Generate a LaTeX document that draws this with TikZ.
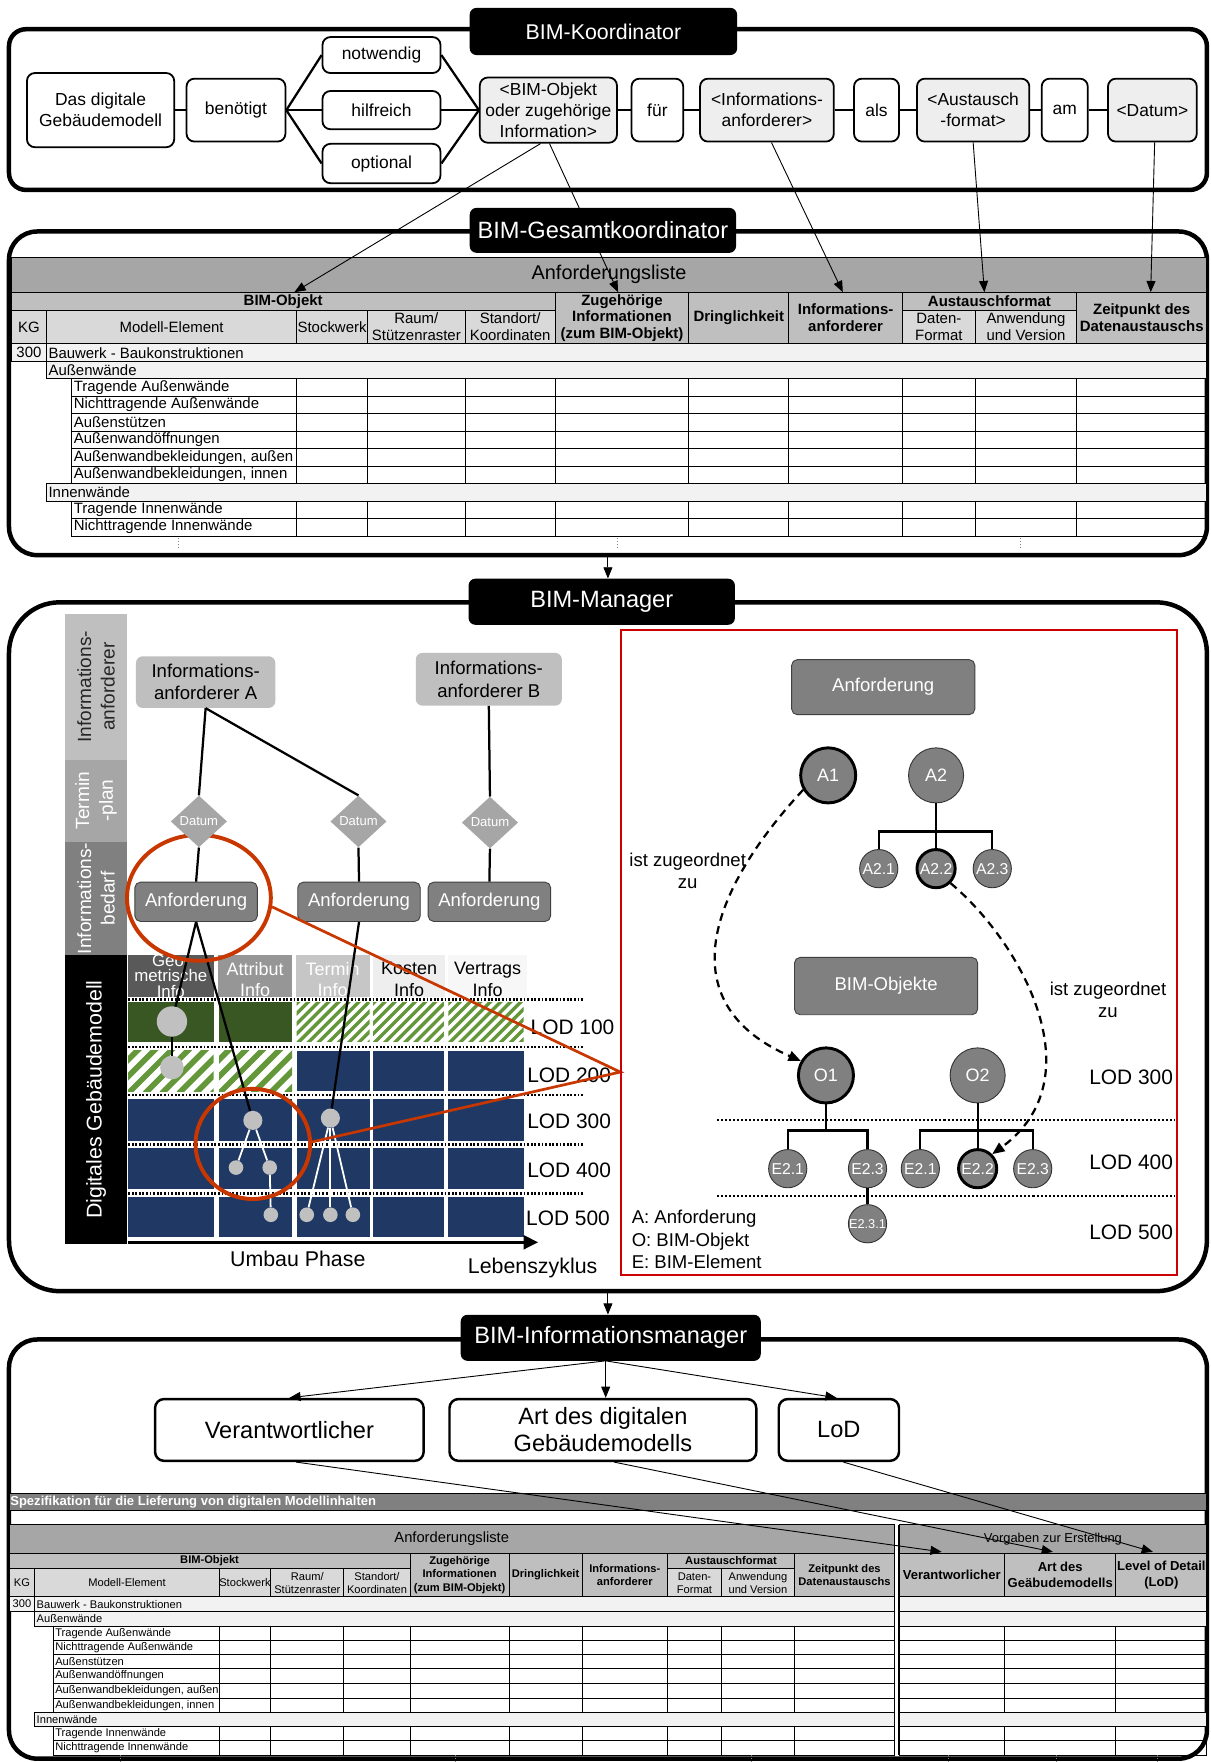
\documentclass[tikz,border=0pt]{standalone}
\usepackage{fontspec}
\setmainfont{Liberation Sans}
\usetikzlibrary{arrows.meta,shapes.geometric,calc}

\definecolor{lbox}{RGB}{238,238,238}
\definecolor{ga}{RGB}{166,166,166}
\definecolor{gb}{RGB}{191,191,191}
\definecolor{gd}{RGB}{217,217,217}
\definecolor{gf}{RGB}{242,242,242}
\definecolor{gm}{RGB}{128,128,128}
\definecolor{gdk}{RGB}{89,89,89}
\definecolor{gat}{RGB}{150,150,150}
\definecolor{gte}{RGB}{198,198,198}
\definecolor{gko}{RGB}{238,238,238}
\definecolor{gve}{RGB}{247,247,247}
\definecolor{navy}{RGB}{31,56,100}
\definecolor{dgreen}{RGB}{56,87,35}
\definecolor{hgreen}{RGB}{100,150,58}
\definecolor{zred}{RGB}{200,55,0}
\definecolor{bred}{RGB}{204,0,0}
\definecolor{ggray}{RGB}{192,192,192}

\newcommand\myfs[2]{\fontsize{#1}{#2}\selectfont}
% table cell: name, x1, y1, x2, y2, fill, node options, text
\newcommand\hc[8]{%
  \draw[tline,fill=#6] (#2,#3) rectangle (#4,#5);
  \node[#7] (#1) at ({(#2+#4)/2},{(#3+#5)/2}) {#8};}
% green hatched cell: x1, y1, x2, y2, stripe period, stripe width
\newcommand\hatchcell[6]{%
  \begin{scope}
    \clip (#1,#2) rectangle (#3,#4);
    \fill[white] (#1,#2) rectangle (#3,#4);
    \foreach \hk in {0,#5,...,130}
      \draw[hgreen,line width=#6pt] ({#1-45+\hk},{#4+2}) -- ++(60,-60);
  \end{scope}}

\begin{document}
\begin{tikzpicture}[x=1pt,y=-1pt,
  secframe/.style={draw=black,line width=4pt},
  lbl/.style={fill=black,text=white,rounded corners=6pt,inner sep=0pt},
  sbox/.style={draw=black,line width=1.6pt,rounded corners=7pt,fill=white,align=center,inner sep=1pt,font=\myfs{15.5}{18.5}},
  gbox/.style={sbox,fill=lbox},
  joinline/.style={line width=2pt},
  conn/.style={line width=0.8pt,-{Triangle[length=10pt,width=8pt]}},
  tline/.style={draw=black,line width=0.8pt},
  ttx/.style={font=\myfs{13.3}{15},inner sep=0pt},
  tsx/.style={font=\myfs{13.3}{15},inner sep=0pt,align=center},
  tbx/.style={font=\bfseries\myfs{13.3}{15},inner sep=0pt,align=center},
  btx/.style={font=\myfs{9.9}{11.5},inner sep=0pt},
  bsx/.style={font=\myfs{9.9}{11.5},inner sep=0pt,align=center},
  bbx/.style={font=\bfseries\myfs{9.9}{12},inner sep=0pt,align=center},
  vbx/.style={font=\bfseries\myfs{11.6}{14},inner sep=0pt,align=center},
  dotb/.style={line width=2pt,dash pattern=on 1.6pt off 1.6pt},
  sdots/.style={draw=gray,line width=0.6pt,dash pattern=on 1pt off 1.5pt},
  rotl/.style={rotate=90,align=center,inner sep=0pt,font=\myfs{17}{21}},
  infbox/.style={fill=gb,rounded corners=6pt,align=center,inner sep=0pt,font=\myfs{16.5}{20}},
  dia/.style={diamond,fill=ga,minimum width=50pt,minimum height=46pt,inner sep=0pt,text=white,font=\myfs{11.6}{13}},
  abox/.style={fill=gm,draw=black!75,line width=0.8pt,rounded corners=5pt,text=white,inner sep=0pt,font=\myfs{16.5}{20}},
  hdt/.style={align=center,inner sep=0pt,font=\myfs{16}{19}},
  lodt/.style={anchor=west,inner sep=0pt,font=\myfs{18.6}{22}},
  gdot/.style={circle,fill=ggray,inner sep=0pt},
  blk/.style={line width=2pt,black},
  wht/.style={line width=1.6pt,white},
  cA/.style={circle,fill=gm,draw=black!80,line width=0.8pt,minimum size=49pt,inner sep=0pt,text=white,font=\myfs{16}{19}},
  cE/.style={circle,fill=gm,draw=black!80,line width=0.8pt,minimum size=34pt,inner sep=0pt,text=white,font=\myfs{14}{16}},
  thickc/.style={draw=black,line width=2.6pt},
  tree/.style={line width=2pt},
  zuord/.style={line width=2pt,dash pattern=on 7pt off 5pt,-{Triangle[length=11pt,width=9pt]}},
  txt/.style={inner sep=0pt,align=center,font=\myfs{16.5}{20}},
  bbox4/.style={draw=black,line width=2.2pt,rounded corners=8pt,fill=white,align=center,inner sep=0pt,font=\myfs{21}{24}}
]
\fill[white] (0,0) rectangle (1077,1568);
\useasboundingbox (0,0) rectangle (1077,1568);

% ================= BIM-Koordinator =================
\draw[secframe,rounded corners=15pt] (8,26) rectangle (1074,169);
\node[sbox,minimum width=131pt,minimum height=66pt] (dgm) at (89.5,98) {Das digitale\\Gebäudemodell};
\node[sbox,minimum width=88pt,minimum height=56pt] (ben) at (210,98) {benötigt};
\node[sbox,minimum width=105pt,minimum height=32pt] (notw) at (339.5,49) {notwendig};
\node[sbox,minimum width=105pt,minimum height=34pt] (hilf) at (339.5,98) {hilfreich};
\node[sbox,minimum width=105pt,minimum height=35pt] (opt) at (339.5,145.5) {optional};
\node[gbox,minimum width=122pt,minimum height=58pt] (bimo) at (488,98) {<BIM-Objekt\\oder zugehörige\\Information>};
\node[sbox,minimum width=46pt,minimum height=56pt] (fuer) at (585,98) {für};
\node[gbox,minimum width=119pt,minimum height=56pt] (infa) at (682.5,98) {<Informations-\\anforderer>};
\node[sbox,minimum width=40pt,minimum height=56pt] (als) at (780,98) {als};
\node[gbox,minimum width=100pt,minimum height=56pt] (aust) at (866,98) {<Austausch\\-format>};
\node[sbox,minimum width=41pt,minimum height=56pt] (am) at (947.5,98) {am};
\node[gbox,minimum width=79pt,minimum height=56pt] (dat) at (1025.5,98) {<Datum>};
\draw[joinline] (dgm) -- (ben);
\draw[joinline] (ben.east) -- (notw.west);
\draw[joinline] (ben.east) -- (hilf.west);
\draw[joinline] (ben.east) -- (opt.west);
\draw[joinline] (notw.east) -- (bimo.west);
\draw[joinline] (hilf.east) -- (bimo.west);
\draw[joinline] (opt.east) -- (bimo.west);
\draw[joinline] (bimo) -- (fuer) -- (infa) -- (als) -- (aust) -- (am) -- (dat);

% ================= BIM-Gesamtkoordinator =================
\draw[secframe,rounded corners=25pt] (8,206) rectangle (1074,494);
\hc{al2}{10}{229}{1074}{260}{ga}{font=\myfs{17.7}{20},inner sep=0pt}{Anforderungsliste}
\hc{h2bo}{10}{260}{494}{276}{gb}{tbx}{BIM-Objekt}
\hc{h2kg}{10}{276}{41.5}{306}{gd}{tsx}{KG}
\hc{h2me}{41.5}{276}{264}{306}{gd}{tsx}{Modell-Element}
\hc{h2sw}{264}{276}{327}{306}{gd}{tsx}{Stockwerk}
\hc{h2rs}{327}{276}{414}{306}{gd}{tsx}{Raum/\\Stützenraster}
\hc{h2sk}{414}{276}{494}{306}{gd}{tsx}{Standort/\\Koordinaten}
\hc{h2zi}{494}{260}{613}{306}{gb}{tbx}{Zugehörige\\Informationen\\(zum BIM-Objekt)}
\hc{h2dr}{613}{260}{702}{306}{gb}{tbx}{Dringlichkeit}
\hc{h2ia}{702}{260}{803}{306}{gb}{tbx}{Informations-\\anforderer}
\hc{h2af}{803}{260}{958}{276}{gb}{tbx}{Austauschformat}
\hc{h2df}{803}{276}{868}{306}{gd}{tsx}{Daten-\\Format}
\hc{h2av}{868}{276}{958}{306}{gd}{tsx}{Anwendung\\und Version}
\hc{h2zp}{958}{260}{1074}{306}{gb}{tbx}{Zeitpunkt des\\Datenaustauschs}
\hc{r2a}{10}{306}{41.5}{322}{gf}{ttx}{300}
\draw[tline,fill=gf] (41.5,306) rectangle (1074,322);
\node[ttx,anchor=west] (r2b) at (43,314) {Bauwerk - Baukonstruktionen};
\draw[tline,fill=gf] (41.5,322) rectangle (1074,337);
\node[ttx,anchor=west] (r2c) at (43,329.5) {Außenwände};
\foreach \ya/\yb/\tx [count=\i] in {337/353/Tragende Außenwände,353/368/Nichttragende Außenwände,368/384/Außenstützen,384/399/Außenwandöffnungen,399/415/{Außenwandbekleidungen, außen},415/430/{Außenwandbekleidungen, innen},446/461/Tragende Innenwände,461/477/Nichttragende Innenwände}{
  \draw[tline] (64,\ya) rectangle (264,\yb);
  \node[ttx,anchor=west] (r2e\i) at (65.5,{(\ya+\yb)/2}) {\tx};
  \foreach \xa/\xb in {264/327,327/414,414/494,494/613,613/702,702/803,803/868,868/958,958/1074}
    \draw[tline] (\xa,\ya) rectangle (\xb,\yb);
}
\draw[tline,fill=gf] (41.5,430) rectangle (1074,446);
\node[ttx,anchor=west] (r2d) at (43,438) {Innenwände};
\foreach \xx in {159,549,908} \draw[sdots] (\xx,479) -- (\xx,488);

% arrows from the sentence to the table columns
\coordinate (tbo) at (262,260);
\coordinate (tzi) at (550,260);
\coordinate (tia) at (750,260);
\coordinate (taf) at (876,260);
\coordinate (tzp) at (1024,260);
\draw[conn] ($(bimo.south)+(-7,0)$) -- (tbo);
\draw[conn] ($(bimo.south)+(1,0)$) -- (tzi);
\draw[conn] ($(infa.south)+(4,0)$) -- (tia);
\draw[conn] (aust.south) -- (taf);
\draw[conn] ($(dat.south)+(2,0)$) -- (tzp);

% ================= BIM-Manager =================
\draw[secframe,rounded corners=45pt] (8,536) rectangle (1074,1149);
% side labels
\fill[gb] (58,546) rectangle (113,676);
\fill[ga] (58,676) rectangle (113,749);
\fill[gm] (58,749) rectangle (113,850);
\fill[black] (58,850) rectangle (113,1107);
\node[rotl,text=black!85] (sl1) at (85.5,611) {Informations-\\anforderer};
\node[rotl,text=white] (sl2) at (85.5,712.5) {Termin\\-plan};
\node[rotl,text=white] (sl3) at (85.5,799.5) {Informations-\\bedarf};
\node[rotl,text=white,font=\myfs{19}{22}] (sl4) at (85.5,978.5) {Digitales Gebäudemodell};

% column headers of the model grid
\fill[gdk] (114,850) rectangle (190,887);
\fill[gat] (194,850) rectangle (260,887);
\fill[gte] (263,850) rectangle (329,887);
\fill[gko] (332,850) rectangle (396,887);
\fill[gve] (399,850) rectangle (469,887);
\node[hdt,text=white,font=\myfs{15}{13.6}] (hgeo) at (152,868.5) {Geo-\\metrische\\Info};
\node[hdt,text=white] (hatt) at (227,871.5) {Attribut\\Info};
\node[hdt,text=white] (hter) at (296,871.5) {Termin\\Info};
\node[hdt] (hkos) at (364,871.5) {Kosten\\Info};
\node[hdt] (hver) at (434,871.5) {Vertrags\\Info};

% grid cells
\fill[dgreen] (114,892) rectangle (190,927);
\fill[dgreen] (195,892) rectangle (260,927);
\hatchcell{264}{892}{329}{927}{9}{3}
\hatchcell{332}{892}{395}{927}{9}{3}
\hatchcell{399}{892}{466}{927}{9}{3}
\hatchcell{114}{935}{190}{971}{15}{5}
\hatchcell{195}{935}{260}{971}{15}{5}
\foreach \xa/\xb in {264/329,332/395,399/466} \fill[navy] (\xa,935) rectangle (\xb,971);
\foreach \ya/\yb in {978/1015,1022/1058,1065/1101}
  \foreach \xa/\xb in {114/190,195/260,264/329,332/395,399/466}
    \fill[navy] (\xa,\ya) rectangle (\xb,\yb);
\foreach \yy in {889.5,931.5,974.5,1018.5,1062}
  \draw[dotb] (114,\yy) -- (519,\yy);
\node[lodt] (lg1) at (472,914) {LOD 100};
\node[lodt] (lg2) at (469,957) {LOD 200};
\node[lodt] (lg3) at (469,998) {LOD 300};
\node[lodt] (lg4) at (469,1041.5) {LOD 400};
\node[lodt] (lg5) at (468,1084) {LOD 500};

% time axis
\coordinate (axs) at (114,1105.5);
\coordinate (axe) at (479,1105.5);
\draw[line width=3pt,-{Triangle[length=13pt,width=12pt]}] (axs) -- (axe);
\node[inner sep=0pt,font=\myfs{19}{22}] (umb) at (265,1120) {Umbau Phase};
\node[inner sep=0pt,font=\myfs{19}{22}] (lzk) at (474,1128) {Lebenszyklus};

% requesters, dates, requirements
\node[infbox,minimum width=124pt,minimum height=46pt] (infA) at (183,607) {Informations-\\anforderer A};
\node[infbox,minimum width=130pt,minimum height=47pt] (infB) at (435,604.5) {Informations-\\anforderer B};
\node[abox,minimum width=109pt,minimum height=35pt] (anf1) at (174.5,802.5) {Anforderung};
\node[abox,minimum width=109pt,minimum height=35pt] (anf2) at (319.5,802.5) {Anforderung};
\node[abox,minimum width=109pt,minimum height=35pt] (anf3) at (435.5,802.5) {Anforderung};

% model elements in the grid
\node[gdot,minimum size=27pt] (g1) at (153,909) {};
\node[gdot,minimum size=21pt] (g2) at (153,950) {};
\node[gdot,minimum size=17pt] (t1) at (225,997) {};
\node[gdot,minimum size=13pt] (t2) at (210,1039) {};
\node[gdot,minimum size=13pt] (t3) at (240,1039) {};
\node[gdot,minimum size=13pt] (t4) at (241,1081) {};
\node[gdot,minimum size=17pt] (u1) at (294,995) {};
\node[gdot,minimum size=13pt] (u2) at (273,1081) {};
\node[gdot,minimum size=13pt] (u3) at (294,1081) {};
\node[gdot,minimum size=13pt] (u4) at (314,1081) {};
\draw[wht] (t1) -- (t2);
\draw[wht] (t1) -- (t3);
\draw[wht] (t3) -- (t4);
\draw[wht] (u1) -- (u2);
\draw[wht] (u1) -- (u3);
\draw[wht] (u1) -- (u4);
\draw[blk] (g1) -- (g2);
\draw[blk] (anf1.south) -- (g1);
\draw[blk] (anf1.south) -- (t1);
\draw[blk] (anf2.south) -- (u1);

% magnifier rings
\node[ellipse,draw=zred,line width=3.5pt,minimum width=128pt,minimum height=112pt,inner sep=0pt] (c1) at (177,799) {};
\node[ellipse,draw=zred,line width=3.5pt,minimum width=102pt,minimum height=98pt,inner sep=0pt] (c2) at (225,1018) {};
\coordinate (ztip) at (552,954);
\draw[zred,line width=2.4pt] (c1.-7) -- (ztip) -- (c2.2);

\node[dia] (d1) at (177,731) {Datum};
\node[dia] (d2) at (319,731) {Datum};
\node[dia] (d3) at (436,732) {Datum};
\draw[joinline] (infA.south) -- (d1.north);
\draw[joinline] (infA.south) -- (d2.north);
\draw[joinline] (infB.south) -- (d3.north);
\draw[joinline] (d1.south) -- (anf1.north);
\draw[joinline] (d2.south) -- (anf2.north);
\draw[joinline] (d3.south) -- (anf3.north);

% detail view
\draw[bred,line width=1.8pt] (552.5,561) rectangle (1047,1135);
\node[abox,minimum width=163pt,minimum height=49pt] (ranf) at (786,611.5) {Anforderung};
\node[abox,minimum width=163pt,minimum height=51pt] (robj) at (788.5,877.5) {BIM-Objekte};
\node[cA,thickc] (a1) at (737,690) {A1};
\node[cA] (a2) at (833,690) {A2};
\node[cE] (a21) at (782,773) {A2.1};
\node[cE,thickc] (a22) at (833,773) {A2.2};
\node[cE] (a23) at (883,773) {A2.3};
\coordinate (a2bar) at (833,740);
\draw[tree] (a2.south) -- (a2bar);
\draw[tree] (a21.north) |- (a2bar) -| (a23.north);
\draw[tree] (a2bar) -- (a22.north);
\node[cA,thickc] (o1) at (735,957) {O1};
\node[cA] (o2) at (870,957) {O2};
\foreach \yy in {997,1064.5} \draw[line width=1.8pt,dash pattern=on 1.8pt off 1.8pt] (638,\yy) -- (1046,\yy);
\node[cE] (e11) at (701,1040) {E2.1};
\node[cE] (e13) at (772,1040) {E2.3};
\node[cE,font=\myfs{11.4}{13}] (e131) at (772,1089) {E2.3.1};
\node[cE] (e21) at (819,1040) {E2.1};
\node[cE,thickc] (e22) at (870,1040) {E2.2};
\node[cE] (e23) at (919,1040) {E2.3};
\coordinate (o1bar) at (735,1006);
\coordinate (o2bar) at (870,1006);
\draw[tree] (o1.south) -- (o1bar);
\draw[tree] (e11.north) |- (o1bar) -| (e13.north);
\draw[tree] (e13.south) -- (e131.north);
\draw[tree] (o2.south) -- (o2bar);
\draw[tree] (e21.north) |- (o2bar) -| (e23.north);
\draw[tree] (o2bar) -- (e22.north);
\draw[zuord] (a1.-150) .. controls (625,800) and (600,895) .. (o1.150);
\draw[zuord] (a22.-45) .. controls (910,840) and (975,960) .. (e22.45);
\node[txt] (iz1) at (612,775) {ist zugeordnet\\zu};
\node[txt] (iz2) at (986,890) {ist zugeordnet\\zu};
\node[lodt,anchor=east] (lr3) at (1044,959) {LOD 300};
\node[lodt,anchor=east] (lr4) at (1044,1034) {LOD 400};
\node[lodt,anchor=east] (lr5) at (1044,1097) {LOD 500};
\node[txt,anchor=base west] (lega) at (562,1089) {A: Anforderung};
\node[txt,anchor=base west] (lego) at (562,1109) {O: BIM-Objekt};
\node[txt,anchor=base west] (lege) at (562,1129) {E: BIM-Element};

% ================= BIM-Informationsmanager =================
\draw[secframe,rounded corners=25pt] (8,1192) rectangle (1074,1565);
\node[bbox4,minimum width=239pt,minimum height=55pt] (ver) at (257.5,1272.5) {Verantwortlicher};
\node[bbox4,minimum width=273pt,minimum height=55pt] (art) at (536.5,1272.5) {Art des digitalen\\Gebäudemodells};
\node[bbox4,minimum width=107pt,minimum height=55pt] (lod) at (746.5,1272.5) {LoD};

\draw[tline,line width=1.2pt,fill=gm] (8,1329) rectangle (1074,1344);
\node[anchor=west,text=white,font=\bfseries\myfs{11.6}{13},inner sep=0pt] (spez) at (9,1336.5) {Spezifikation für die Lieferung von digitalen Modellinhalten};

\hc{al4}{8}{1357}{796}{1382}{ga}{font=\myfs{13.1}{15},inner sep=0pt}{Anforderungsliste}
\hc{vg4}{800}{1357}{1074}{1382}{ga}{font=\myfs{11.5}{13},inner sep=0pt}{Vorgaben zur Erstellung}
\hc{h4bo}{8}{1382}{365}{1396}{gb}{bbx}{BIM-Objekt}
\hc{h4kg}{8}{1396}{31}{1421}{gd}{bsx}{KG}
\hc{h4me}{31}{1396}{195}{1421}{gd}{bsx}{Modell-Element}
\hc{h4sw}{195}{1396}{241}{1421}{gd}{bsx}{Stockwerk}
\hc{h4rs}{241}{1396}{306}{1421}{gd}{bsx}{Raum/\\Stützenraster}
\hc{h4sk}{306}{1396}{365}{1421}{gd}{bsx}{Standort/\\Koordinaten}
\hc{h4zi}{365}{1382}{453}{1421}{gb}{bbx}{Zugehörige\\Informationen\\(zum BIM-Objekt)}
\hc{h4dr}{453}{1382}{518}{1421}{gb}{bbx}{Dringlichkeit}
\hc{h4ia}{518}{1382}{594}{1421}{gb}{bbx}{Informations-\\anforderer}
\hc{h4af}{594}{1382}{707}{1396}{gb}{bbx}{Austauschformat}
\hc{h4df}{594}{1396}{642}{1421}{gd}{bsx}{Daten-\\Format}
\hc{h4av}{642}{1396}{707}{1421}{gd}{bsx}{Anwendung\\und Version}
\hc{h4zp}{707}{1382}{796}{1421}{gb}{bbx}{Zeitpunkt des\\Datenaustauschs}
\hc{h4ve}{800}{1382}{894}{1421}{gb}{vbx}{Verantworlicher}
\hc{h4ag}{894}{1382}{993}{1421}{gb}{vbx}{Art des\\Geäbudemodells}
\hc{h4lo}{993}{1382}{1074}{1421}{gb}{vbx}{Level of Detail\\(LoD)}
\hc{r4a}{8}{1421}{31}{1434}{gf}{btx}{300}
\draw[tline,fill=gf] (31,1421) rectangle (796,1434);
\node[btx,anchor=west] (r4b) at (32.5,1427.5) {Bauwerk - Baukonstruktionen};
\draw[tline,fill=gf] (800,1421) rectangle (1074,1434);
\draw[tline,fill=gf] (31,1434) rectangle (796,1447);
\node[btx,anchor=west] (r4c) at (32.5,1440.5) {Außenwände};
\draw[tline,fill=gf] (800,1434) rectangle (1074,1447);
\foreach \ya/\yb/\tx [count=\i] in {1447/1460/Tragende Außenwände,1460/1472/Nichttragende Außenwände,1472/1485/Außenstützen,1485/1498/Außenwandöffnungen,1498/1511/{Außenwandbekleidungen, außen},1511/1524/{Außenwandbekleidungen, innen},1536/1549/Tragende Innenwände,1549/1562/Nichttragende Innenwände}{
  \draw[tline] (48,\ya) rectangle (195,\yb);
  \node[btx,anchor=west] (r4e\i) at (49,{(\ya+\yb)/2}) {\tx};
  \foreach \xa/\xb in {195/241,241/306,306/365,365/453,453/518,518/594,594/642,642/707,707/796,800/894,894/993,993/1074}
    \draw[tline] (\xa,\ya) rectangle (\xb,\yb);
}
\draw[tline,fill=gf] (31,1524) rectangle (796,1536);
\node[btx,anchor=west] (r4d) at (32.5,1530) {Innenwände};
\draw[tline,fill=gf] (800,1524) rectangle (1074,1536);
\draw[line width=1.6pt] (796,1357) -- (796,1562);
\draw[line width=1.6pt] (800,1357) -- (800,1562);
\foreach \xx in {107,405,669,844,940,1030} \draw[sdots] (\xx,1562) -- (\xx,1568);

% arrows of the information manager
\coordinate (k4o) at (539,1211);
\coordinate (vg1) at (838,1381);
\coordinate (vg2) at (937,1381);
\coordinate (vg3) at (1026,1381);
\draw[conn] (k4o) -- (ver.north);
\draw[conn] (k4o) -- (k4o |- art.north);
\draw[conn] (k4o) -- ($(lod.north)+(-2,0)$);
\draw[conn] ($(ver.south)+(6,0)$) -- (vg1);
\draw[conn] ($(art.south)+(10,0)$) -- (vg2);
\draw[conn] ($(lod.south)+(4,0)$) -- (vg3);

% ================= role labels =================
\node[lbl,minimum width=238pt,minimum height=42pt,font=\myfs{19}{22}] (k1) at (537,28) {BIM-Koordinator};
\node[lbl,minimum width=237pt,minimum height=40pt,font=\myfs{21}{24}] (k2) at (536.5,205) {BIM-Gesamtkoordinator};
\node[lbl,minimum width=237pt,minimum height=41pt,font=\myfs{21}{24}] (k3) at (535.5,535.5) {BIM-Manager};
\node[lbl,minimum width=267pt,minimum height=41pt,font=\myfs{21}{24}] (k4) at (543.5,1190.5) {BIM-Informationsmanager};

% hand-over between the roles
\coordinate (s2o) at (541,494);
\coordinate (s3o) at (541,1149);
\draw[conn] (s2o) -- (s2o |- k3.north);
\draw[conn] (s3o) -- (s3o |- k4.north);
\end{tikzpicture}
\end{document}
